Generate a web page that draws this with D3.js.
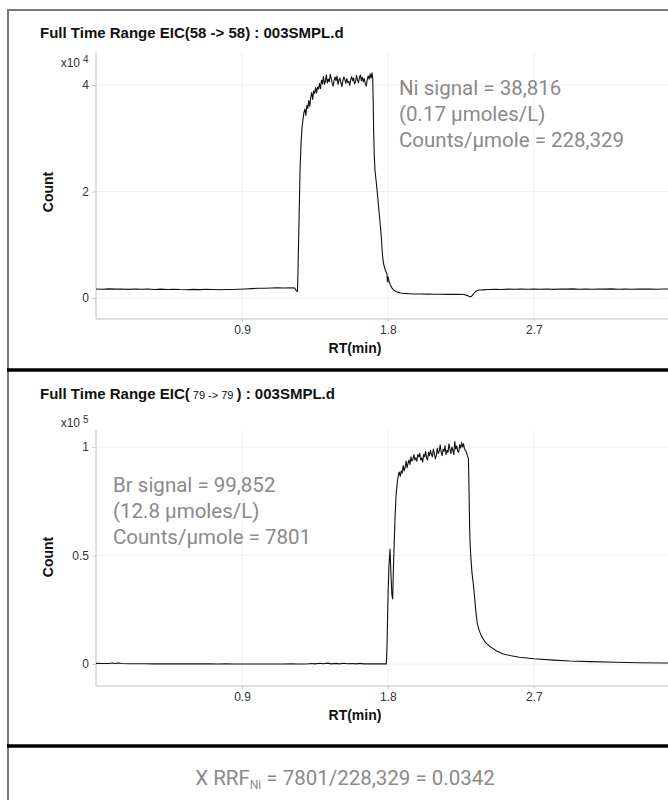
<!DOCTYPE html>
<html>
<head>
<meta charset="utf-8">
<script src="https://cdn.jsdelivr.net/npm/d3@7"></script>
<style>
  html, body { margin: 0; padding: 0; background: #fff; }
  svg { display: block; }
</style>
</head>
<body>
<svg id="chart" width="668" height="800"></svg>
<script>
// Retention time axis (minutes)
const rtTicks = [0.9, 1.8, 2.7];

// Ni (m/z 58 -> 58) trace: [RT min, counts]
const niTrace = [
  [0.00,1700],[0.04,1640],[0.08,1720],[0.12,1660],[0.16,1700],[0.20,1620],[0.24,1690],[0.28,1640],
  [0.32,1680],[0.36,1600],[0.40,1660],[0.44,1610],[0.48,1650],[0.52,1590],[0.56,1560],[0.60,1620],
  [0.64,1570],[0.68,1640],[0.72,1590],[0.76,1560],[0.80,1610],[0.84,1590],[0.88,1640],[0.92,1700],
  [0.96,1760],[1.00,1820],[1.04,1840],[1.08,1880],[1.12,1900],[1.16,1870],[1.20,1920],[1.225,1880],
  [1.236,1300],[1.242,1200],[1.246,6000],[1.252,15000],[1.258,24000],[1.264,29000],[1.270,32000],
  [1.276,33500],[1.282,34800],[1.288,35500],[1.294,34300],[1.300,36200],[1.306,35600],[1.312,37100],
  [1.318,36000],[1.324,37700],[1.330,38600],[1.336,37300],[1.342,38900],[1.348,38400],[1.354,39500],
  [1.360,38500],[1.366,39600],[1.372,39200],[1.378,40300],[1.384,39300],[1.390,40900],[1.396,40200],
  [1.402,41600],[1.408,40100],[1.414,40700],[1.420,41900],[1.426,40400],[1.432,41100],[1.438,40600],
  [1.444,42000],[1.450,41300],[1.456,40300],[1.462,39800],[1.468,40900],[1.474,41500],[1.480,40800],
  [1.486,41700],[1.492,40100],[1.498,40900],[1.504,41300],[1.510,40400],[1.516,39700],[1.522,40800],
  [1.528,41500],[1.534,41100],[1.540,40300],[1.546,41200],[1.552,40500],[1.558,40700],[1.564,39900],
  [1.570,40900],[1.576,41600],[1.582,40800],[1.588,41300],[1.594,40200],[1.600,40600],[1.606,41800],
  [1.612,41000],[1.618,40400],[1.624,41400],[1.630,41900],[1.636,40800],[1.642,41500],[1.648,40600],
  [1.654,41200],[1.660,40300],[1.666,39800],[1.672,40900],[1.678,41700],[1.684,41100],[1.690,42100],
  [1.696,41300],[1.702,42300],[1.706,41200],[1.709,37000],[1.712,31000],[1.716,26500],[1.720,24000],
  [1.726,22300],[1.732,20500],[1.738,18600],[1.744,16500],[1.750,14600],[1.756,12600],[1.760,11000],
  [1.764,9000],[1.768,7500],[1.772,6600],[1.778,5800],[1.784,5200],[1.790,4800],[1.794,4500],
  [1.797,3000],[1.800,4000],[1.806,3200],[1.814,2500],[1.822,2000],[1.832,1600],[1.845,1300],
  [1.860,1100],[1.880,950],[1.900,860],[1.930,800],[1.96,760],[2.00,740],[2.04,720],[2.08,700],
  [2.12,710],[2.16,690],[2.20,700],[2.24,680],[2.27,650],[2.29,450],[2.305,250],[2.315,300],
  [2.325,700],[2.34,1200],[2.36,1500],[2.38,1520],[2.42,1600],[2.46,1640],[2.50,1610],[2.54,1660],
  [2.58,1630],[2.62,1680],[2.66,1640],[2.70,1700],[2.74,1650],[2.78,1690],[2.82,1620],[2.86,1700],
  [2.90,1660],[2.94,1720],[2.98,1650],[3.02,1690],[3.06,1640],[3.10,1700],[3.14,1660],[3.18,1710],
  [3.22,1650],[3.26,1690],[3.30,1640],[3.34,1700],[3.38,1660],[3.42,1690],[3.46,1650],[3.50,1700],
  [3.54,1670],[3.58,1690]
];

// Br (m/z 79 -> 79) trace: [RT min, counts]
const brTrace = [
  [0.00,300],[0.04,250],[0.08,200],[0.10,450],[0.12,250],[0.14,500],[0.16,200],[0.20,150],
  [0.25,100],[0.30,100],[0.35,80],[0.40,60],[0.45,80],[0.50,50],[0.55,60],[0.60,40],[0.65,50],
  [0.70,40],[0.75,30],[0.80,40],[0.85,30],[0.90,20],[0.95,30],[1.00,20],[1.05,30],[1.10,20],
  [1.15,30],[1.20,40],[1.25,20],[1.30,30],[1.33,250],[1.35,60],[1.38,350],[1.40,80],[1.43,400],
  [1.45,70],[1.48,300],[1.50,60],[1.53,350],[1.55,80],[1.58,250],[1.60,60],[1.63,300],
  [1.65,70],[1.70,60],[1.75,50],[1.79,40],
  [1.794,8000],[1.800,30000],[1.806,45000],[1.813,53000],[1.818,42000],[1.824,32000],[1.829,30000],
  [1.834,45000],[1.843,66000],[1.850,78000],[1.858,84000],[1.864,87000],[1.870,88500],[1.876,86500],
  [1.882,89000],[1.888,88000],[1.894,91500],[1.900,89000],[1.906,90500],[1.912,93500],[1.918,90500],
  [1.924,92500],[1.930,94000],[1.936,92000],[1.942,95500],[1.948,93500],[1.954,94500],[1.960,96500],
  [1.966,94000],[1.972,95000],[1.978,93500],[1.984,96500],[1.990,95500],[1.996,97000],[2.002,94000],
  [2.008,95000],[2.014,93000],[2.020,96500],[2.026,95500],[2.032,98000],[2.038,95000],[2.044,94000],
  [2.050,97500],[2.056,96000],[2.062,98500],[2.068,96500],[2.074,95500],[2.080,99000],[2.086,97000],
  [2.092,94500],[2.098,96000],[2.104,99500],[2.110,97000],[2.116,98000],[2.122,101000],[2.128,97500],
  [2.134,96000],[2.140,99000],[2.146,98000],[2.152,100500],[2.158,96500],[2.164,98500],[2.170,97500],
  [2.176,101500],[2.182,99000],[2.188,97000],[2.194,100000],[2.200,98500],[2.206,96500],[2.212,102500],
  [2.218,99000],[2.224,100500],[2.230,98000],[2.236,97500],[2.242,101000],[2.248,99500],[2.254,102000],
  [2.260,100000],[2.266,101500],[2.272,99000],[2.278,98500],[2.284,97500],[2.290,96000],[2.296,94500],
  [2.300,80000],[2.303,65000],[2.306,56000],[2.312,48000],[2.318,42000],[2.326,37000],[2.334,31000],
  [2.342,24000],[2.350,19000],[2.362,15500],[2.378,12600],[2.40,10000],[2.43,8000],[2.47,6000],
  [2.51,4600],[2.56,3800],[2.61,3100],[2.70,2400],[2.82,1800],[2.92,1400],[3.05,1100],[3.20,800],
  [3.35,600],[3.50,450],[3.60,400]
];

// Y tick values (counts) and their labels in scaled units
const niYTicks = [0, 20000, 40000];
const niYLabels = ["0", "2", "4"];
const brYTicks = [0, 50000, 100000];
const brYLabels = ["0", "0.5", "1"];

const svg = d3.select("#chart");
const W = 668;
const grayText = "#8a8a8a";
const labelFont = "'Liberation Sans', Arial, sans-serif";
const noteFont = "Roboto, 'Noto Sans', sans-serif";

// Outer frame and separators
svg.append("line").attr("x1", 8).attr("x2", 8).attr("y1", 9).attr("y2", 800)
  .attr("stroke", "#7a7a7a").attr("stroke-width", 2);
svg.append("line").attr("x1", 7).attr("x2", W).attr("y1", 10).attr("y2", 10)
  .attr("stroke", "#7a7a7a").attr("stroke-width", 2);
[370, 746].forEach(y => {
  svg.append("line").attr("x1", 7).attr("x2", W).attr("y1", y).attr("y2", y)
    .attr("stroke", "#000").attr("stroke-width", 3.5);
});

const x = d3.scaleLinear().domain([0, 3.6]).range([96, 96 + 3.6 * 162.2]);

svg.append("defs").append("clipPath").attr("id", "plotClip")
  .append("rect").attr("x", 96).attr("y", 0).attr("width", W - 96).attr("height", 800);

function drawPanel(p) {
  const g = svg.append("g");
  const y = d3.scaleLinear().domain([0, p.yTop]).range([p.y0, p.yTopPx]);

  // Title
  const title = g.append("text").attr("x", 40).attr("y", p.titleY)
    .attr("font-family", labelFont).attr("font-size", 15).attr("font-weight", "bold")
    .attr("fill", "#111");
  p.title.forEach(seg => {
    const t = title.append("tspan").text(seg.text);
    if (seg.small) t.attr("font-size", 11).attr("font-weight", "normal");
  });

  // Gridlines
  g.append("g").selectAll("line").data(p.yTicks).join("line")
    .attr("x1", 96).attr("x2", W).attr("y1", d => y(d)).attr("y2", d => y(d))
    .attr("stroke", "#f0f0f0");
  g.append("g").selectAll("line").data(rtTicks).join("line")
    .attr("x1", d => x(d)).attr("x2", d => x(d)).attr("y1", p.axisTop).attr("y2", p.axisBottom)
    .attr("stroke", "#f0f0f0");

  // Axis frame lines
  g.append("line").attr("x1", 96).attr("x2", 96).attr("y1", p.axisTop).attr("y2", p.axisBottom)
    .attr("stroke", "#d4d4d4").attr("stroke-width", 1.5);
  g.append("line").attr("x1", 96).attr("x2", W).attr("y1", p.axisBottom).attr("y2", p.axisBottom)
    .attr("stroke", "#d4d4d4").attr("stroke-width", 1.5);

  // Y axis
  const yAxis = g.append("g").attr("transform", "translate(96,0)")
    .call(d3.axisLeft(y).tickValues(p.yTicks).tickSize(4).tickPadding(3)
      .tickFormat((d, i) => p.yLabels[i]));
  yAxis.select(".domain").remove();
  yAxis.selectAll(".tick line").attr("stroke", "#cccccc");
  yAxis.selectAll(".tick text").attr("font-family", labelFont).attr("font-size", 12).attr("fill", "#333");

  // X axis
  const xAxis = g.append("g").attr("transform", `translate(0,${p.axisBottom})`)
    .call(d3.axisBottom(x).tickValues(rtTicks).tickSize(3).tickPadding(3).tickFormat(d3.format(".1f")));
  xAxis.select(".domain").remove();
  xAxis.selectAll(".tick line").attr("stroke", "#cccccc");
  xAxis.selectAll(".tick text").attr("font-family", labelFont).attr("font-size", 12).attr("fill", "#333");

  // Exponent label
  g.append("text").attr("x", 80).attr("y", p.expY).attr("text-anchor", "end")
    .attr("font-family", labelFont).attr("font-size", 12).attr("fill", "#333").text("x10");
  g.append("text").attr("x", 83).attr("y", p.expY - 4)
    .attr("font-family", labelFont).attr("font-size", 10).attr("fill", "#333").text(p.exp);

  // Axis titles
  g.append("text").attr("transform", `translate(53,${p.countY}) rotate(-90)`)
    .attr("text-anchor", "middle").attr("font-family", labelFont).attr("font-size", 14)
    .attr("font-weight", "bold").attr("fill", "#111").text("Count");
  g.append("text").attr("x", 355).attr("y", p.axisBottom + 34).attr("text-anchor", "middle")
    .attr("font-family", labelFont).attr("font-size", 14).attr("font-weight", "bold")
    .attr("fill", "#111").text("RT(min)");

  // Trace
  const line = d3.line().x(d => x(d[0])).y(d => y(d[1]));
  g.append("path").datum(p.trace).attr("d", line).attr("clip-path", "url(#plotClip)")
    .attr("fill", "none").attr("stroke", "#111").attr("stroke-width", 1.1)
    .attr("stroke-linejoin", "round");

  // Annotation
  g.append("g").selectAll("text").data(p.note).join("text")
    .attr("x", p.noteX).attr("y", (d, i) => p.noteY + i * 26)
    .attr("font-family", noteFont).attr("font-size", 20.5).attr("fill", grayText).text(d => d);
}

drawPanel({
  title: [{text: "Full Time Range EIC(58 -> 58) : 003SMPL.d"}],
  titleY: 38, axisTop: 52, axisBottom: 319, y0: 298, yTopPx: 85, yTop: 40000,
  yTicks: niYTicks, yLabels: niYLabels, exp: "4", expY: 67, countY: 192,
  trace: niTrace,
  note: ["Ni signal = 38,816", "(0.17 \u00b5moles/L)", "Counts/\u00b5mole = 228,329"],
  noteX: 399, noteY: 95
});

drawPanel({
  title: [{text: "Full Time Range EIC("}, {text: " 79 -> 79 ", small: true}, {text: " ) : 003SMPL.d"}],
  titleY: 399, axisTop: 430, axisBottom: 686, y0: 664, yTopPx: 447, yTop: 100000,
  yTicks: brYTicks, yLabels: brYLabels, exp: "5", expY: 427, countY: 557,
  trace: brTrace,
  note: ["Br signal = 99,852", "(12.8 \u00b5moles/L)", "Counts/\u00b5mole = 7801"],
  noteX: 113, noteY: 492
});

// Relative response factor
const f = svg.append("text").attr("x", 345).attr("y", 785).attr("text-anchor", "middle")
  .attr("font-family", noteFont).attr("font-size", 20.5).attr("fill", grayText);
f.append("tspan").text("X RRF");
f.append("tspan").attr("font-size", 12).attr("dy", 4).text("Ni");
f.append("tspan").attr("dy", -4).text(" = 7801/228,329 = 0.0342");
</script>
</body>
</html>
